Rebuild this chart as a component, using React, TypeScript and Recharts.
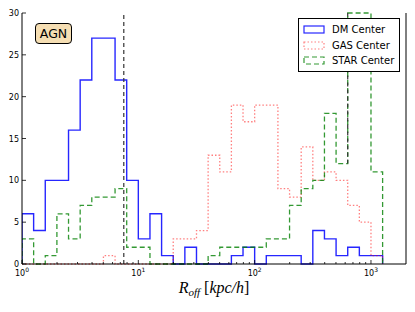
import React from 'react';
import { ComposedChart, Line, XAxis, YAxis, ReferenceLine, Legend } from 'recharts';

// histogram bins: 0.1 dex wide, starting at 10^0 kpc/h
const binStartDex = 0;
const binWidthDex = 0.1;

const dmCounts = [6, 4, 10, 10, 16, 22, 27, 27, 22, 10, 3, 6, 1, 0, 2, 0, 0, 0, 1, 2, 0, 1, 1, 1, 0, 4, 3, 1, 2, 1, 1];
const gasCounts = [0, 0, 0, 0, 0, 0, 0, 1, 0, 0, 0, 0, 0, 3, 3, 4, 13, 11, 19, 17, 19, 19, 9, 8, 14, 10, 11, 10, 7, 5, 1];
const starCounts = [3, 0, 1, 6, 3, 7, 8, 8, 9, 2, 2, 0, 0, 0, 0, 0, 1, 2, 2, 2, 2, 3, 3, 7, 9, 10, 18, 12, 30, 30, 11];

const majorTicksX = [1, 10, 100, 1000];
const minorTicksX = [2, 3, 4, 5, 6, 7, 8, 9, 20, 30, 40, 50, 60, 70, 80, 90, 200, 300, 400, 500, 600, 700, 800, 900];
const ticksY = [0, 5, 10, 15, 20, 25, 30];

const refLineX = 7.5;
const refSegment = [{ x: 631, y: 12 }, { x: 631, y: 30 }];

const series = [
  { name: 'DM Center', counts: dmCounts, color: '#0000ff', dash: undefined, opacity: 0.85, width: 1.4 },
  { name: 'GAS Center', counts: gasCounts, color: '#ff0000', dash: '1.5 2', opacity: 0.5, width: 1.3 },
  { name: 'STAR Center', counts: starCounts, color: '#008000', dash: '5 3', opacity: 0.8, width: 1.3 },
];

const toOutline = (counts: number[]) => {
  const edge = (i: number) => Math.pow(10, binStartDex + i * binWidthDex);
  const pts = [{ x: edge(0), y: 0 }];
  counts.forEach((c, i) => pts.push({ x: edge(i), y: c }));
  const end = edge(counts.length);
  pts.push({ x: end, y: counts[counts.length - 1] });
  pts.push({ x: end, y: 0 });
  return pts;
};

const allTicksX = [...majorTicksX, ...minorTicksX].sort((a, b) => a - b);
const font = 'DejaVu Sans';

const BottomTick = (props: any) => {
  const { x, y, payload } = props;
  const major = majorTicksX.includes(payload.value);
  const exp = Math.round(Math.log10(payload.value));
  return (
    <g>
      <line x1={x} y1={y} x2={x} y2={y - (major ? 4 : 2)} stroke="#000" strokeWidth={0.8} />
      {major && (
        <text x={x} y={y + 12} textAnchor="middle" fontFamily={font} fontSize={8} fill="#000">
          10<tspan dy={-4} fontSize={6}>{exp}</tspan>
        </text>
      )}
    </g>
  );
};

const TopTick = (props: any) => {
  const { x, y, payload } = props;
  const major = majorTicksX.includes(payload.value);
  return <line x1={x} y1={y} x2={x} y2={y + (major ? 4 : 2)} stroke="#000" strokeWidth={0.8} />;
};

const LeftTick = (props: any) => {
  const { x, y, payload } = props;
  return (
    <g>
      <line x1={x} y1={y} x2={x + 4} y2={y} stroke="#000" strokeWidth={0.8} />
      <text x={x - 3} y={y + 3} textAnchor="end" fontFamily={font} fontSize={8} fill="#000">
        {payload.value}
      </text>
    </g>
  );
};

const RightTick = (props: any) => {
  const { x, y } = props;
  return <line x1={x} y1={y} x2={x - 4} y2={y} stroke="#000" strokeWidth={0.8} />;
};

const XTitle = (props: any) => {
  const vb = props.viewBox || { x: 22, y: 264, width: 384 };
  return (
    <text
      x={vb.x + vb.width / 2}
      y={vb.y + 29}
      textAnchor="middle"
      fontFamily="Liberation Serif"
      fontSize={16}
      fill="#000"
    >
      <tspan fontStyle="italic">R</tspan>
      <tspan fontStyle="italic" fontSize={11} dy={3}>off</tspan>
      <tspan dy={-3}> [</tspan>
      <tspan fontStyle="italic">kpc/h</tspan>
      <tspan>]</tspan>
    </text>
  );
};

const LegendBox = () => (
  <div
    style={{
      background: '#fff',
      border: '1px solid #000',
      padding: '3px 4px 2px 4px',
      fontFamily: font,
      fontSize: 10,
      width: 92,
    }}
  >
    {series.map((s) => (
      <div key={s.name} style={{ display: 'flex', alignItems: 'center', height: 15.5 }}>
        <svg width={22} height={9} style={{ marginRight: 7 }}>
          <rect
            x={1}
            y={1}
            width={20}
            height={7}
            fill="none"
            stroke={s.color}
            strokeOpacity={s.opacity}
            strokeWidth={1.2}
            strokeDasharray={s.dash}
          />
        </svg>
        <span>{s.name}</span>
      </div>
    ))}
  </div>
);

export default function App() {
  return (
    <div style={{ position: 'absolute', left: 0, top: 0, width: 415, height: 312, background: '#fff' }}>
      <ComposedChart width={415} height={312} margin={{ top: 13, right: 0, bottom: 0, left: 0 }}>
        <XAxis
          xAxisId="bottom"
          dataKey="x"
          type="number"
          scale="log"
          domain={[1, 2000]}
          allowDataOverflow
          ticks={allTicksX}
          interval={0}
          tickSize={0}
          tickMargin={0}
          tick={<BottomTick />}
          axisLine={{ stroke: '#000' }}
          tickLine={false}
          height={48}
          label={<XTitle />}
        />
        <XAxis
          xAxisId="top"
          orientation="top"
          dataKey="x"
          type="number"
          scale="log"
          domain={[1, 2000]}
          allowDataOverflow
          ticks={allTicksX}
          interval={0}
          tickSize={0}
          tickMargin={0}
          tick={<TopTick />}
          axisLine={{ stroke: '#000' }}
          tickLine={false}
          height={0}
        />
        <YAxis
          yAxisId="left"
          type="number"
          domain={[0, 30]}
          ticks={ticksY}
          interval={0}
          tickSize={0}
          tickMargin={0}
          tick={<LeftTick />}
          axisLine={{ stroke: '#000' }}
          tickLine={false}
          width={22}
        />
        <YAxis
          yAxisId="right"
          orientation="right"
          type="number"
          domain={[0, 30]}
          ticks={ticksY}
          interval={0}
          tickSize={0}
          tickMargin={0}
          tick={<RightTick />}
          axisLine={{ stroke: '#000' }}
          tickLine={false}
          width={9}
        />
        {series.map((s) => (
          <Line
            key={s.name}
            xAxisId="bottom"
            yAxisId="left"
            data={toOutline(s.counts)}
            dataKey="y"
            name={s.name}
            type="stepAfter"
            stroke={s.color}
            strokeOpacity={s.opacity}
            strokeWidth={s.width}
            strokeDasharray={s.dash}
            dot={false}
            activeDot={false}
            isAnimationActive={false}
          />
        ))}
        <ReferenceLine xAxisId="bottom" yAxisId="left" x={refLineX} stroke="#333" strokeDasharray="4 3" strokeWidth={1.2} />
        <ReferenceLine
          xAxisId="bottom"
          yAxisId="left"
          segment={refSegment}
          stroke="#333"
          strokeDasharray="4 3"
          strokeWidth={1.2}
        />
        <Legend
          layout="vertical"
          align="center"
          verticalAlign="middle"
          content={<LegendBox />}
          wrapperStyle={{ position: 'absolute', left: 298, top: 18, width: 102, height: 'auto' }}
        />
      </ComposedChart>
      <div
        style={{
          position: 'absolute',
          left: 35,
          top: 23,
          width: 35,
          height: 19,
          background: '#f5deb3',
          border: '1px solid #000',
          borderRadius: 4,
          fontFamily: font,
          fontSize: 12.5,
          lineHeight: '19px',
          textAlign: 'center',
        }}
      >
        AGN
      </div>
    </div>
  );
}
